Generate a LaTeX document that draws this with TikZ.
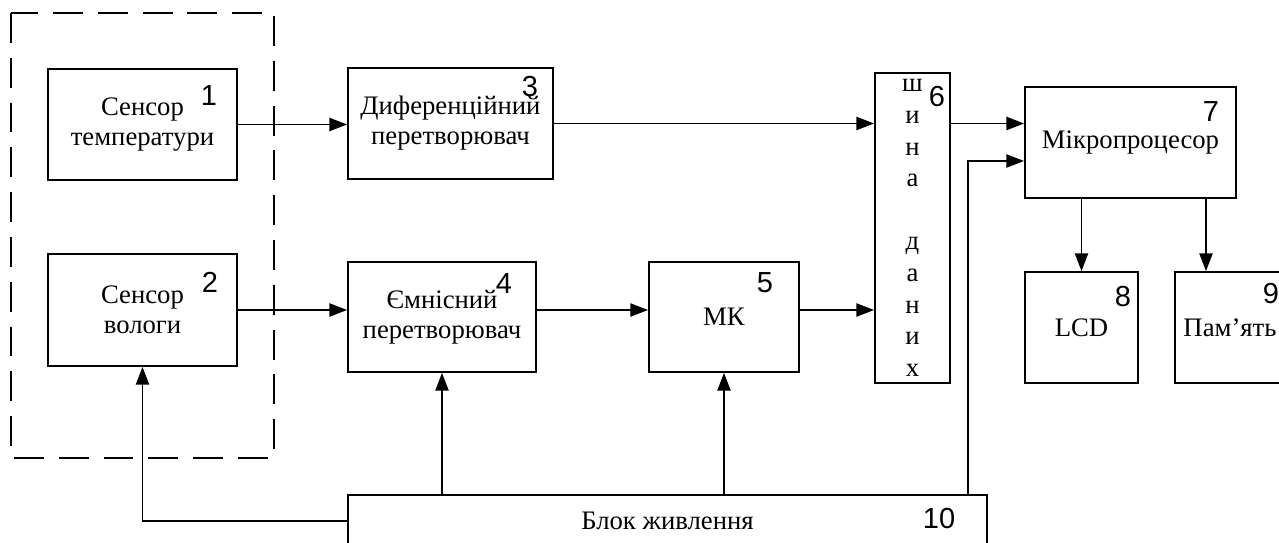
\documentclass[tikz,border=0pt]{standalone}
\usepackage{fontspec}
\setmainfont{Liberation Serif}
\newfontfamily\numfont{Liberation Sans}
\usetikzlibrary{arrows.meta}
\tikzset{>={Triangle[length=10pt,width=7.5pt]}}
\tikzset{
  blok/.style = {draw, line width=1.1pt, inner sep=0pt, align=center,
    font=\fontsize{15.2}{17}\selectfont},
  num/.style = {inner sep=0pt, font=\numfont\fontsize{16.5}{18}\selectfont},
  arr/.style = {->, line width=0.8pt}
}

\begin{document}
\begin{tikzpicture}[x=0.02cm,y=-0.02cm]
  \useasboundingbox (0,0) rectangle (1279,543);
  \clip (0,0) rectangle (1279,543);
  % sensors
  \draw[dash pattern=on 17pt off 8.5pt, line width=1.1pt] (11,13) rectangle (274,458);
  \node[blok, minimum width=3.78cm, minimum height=2.22cm] (b1) at (142.5,124.5) {Сенсор\\температури};
  \node[blok, minimum width=3.78cm, minimum height=2.24cm] (b2) at (142.5,310) {Сенсор\\вологи};
  % converters
  \node[blok, minimum width=4.10cm, minimum height=2.22cm] (b3) at (450.5,123.5) {Диференційний\\перетворювач};
  \node[blok, minimum width=3.76cm, minimum height=2.2cm] (b4) at (442,317) {Ємнісний\\перетворювач};
  \node[blok, minimum width=3.0cm, minimum height=2.2cm] (b5) at (724,317) {МК};
  % data bus
  \node[blok, minimum width=1.5cm, minimum height=6.2cm,
    font=\fontsize{15.2}{18}\selectfont] (b6) at (912.5,228) {ш\\и\\н\\а\\\mbox{}\\д\\а\\н\\и\\х};
  \node[blok, minimum width=4.22cm, minimum height=2.22cm] (b7) at (1130.5,142.5) {Мікропроцесор};
  \node[blok, minimum width=2.26cm, minimum height=2.22cm] (b8) at (1081.5,327.5) {LCD};
  \node[blok, minimum width=2.2cm, minimum height=2.22cm] (b9) at (1230,327.5) {Пам’ять};
  % power
  \node[blok, minimum width=12.78cm, minimum height=1.04cm] (b10) at (667.5,521) {Блок живлення};
  % numbers
  \node[num] (n1) at (209,96) {1};
  \node[num] (n2) at (210,282) {2};
  \node[num] (n3) at (530,87) {3};
  \node[num] (n4) at (504,284) {4};
  \node[num] (n5) at (765,283) {5};
  \node[num] (n6) at (937,97) {6};
  \node[num] (n7) at (1211,112) {7};
  \node[num] (n8) at (1123,297) {8};
  \node[num] (n9) at (1271,294) {9};
  \node[num] (n10) at (939,519) {10};
  \coordinate (t7) at (968,161);
  \coordinate (t9) at (1206,0);
  % signals
  \draw[arr] (b1.east) -- (b1.east -| b3.west);
  \draw[arr] (b3.east) -- (b3.east -| b6.west);
  \draw[arr] (b2.east) -- (b2.east -| b4.west);
  \draw[arr] (b4.east |- b2) -- (b5.west |- b2);
  \draw[arr] (b5.east |- b2) -- (b6.west |- b2);
  \draw[arr] (b6.east |- b3) -- (b7.west |- b3);
  \draw[arr] (b7.south -| b8) -- (b8.north);
  \draw[arr] (b7.south -| t9) -- (b9.north -| t9);
  % supply
  \draw[arr] (b10.north -| b4) -- (b4.south);
  \draw[arr] (b10.north -| b5) -- (b5.south);
  \draw[arr] (b10.west) -| (b2.south);
  \draw[arr] (b10.north -| t7) |- (b7.west |- t7);
\end{tikzpicture}
\end{document}
